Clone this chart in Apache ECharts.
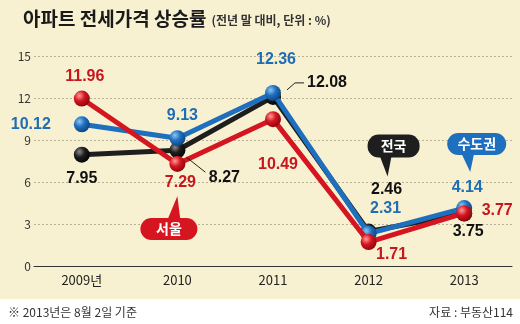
<!DOCTYPE html>
<html><head><meta charset="utf-8">
<script src="https://cdn.jsdelivr.net/npm/echarts@6/dist/echarts.min.js"></script>
<style>html,body{margin:0;padding:0;background:#f7f1d2;}#c{width:520px;height:324px;}</style>
</head><body><div id="c"></div>
<script>
const categories = ['2009년', '2010', '2011', '2012', '2013'];
const yTicks = [0, 3, 6, 9, 12, 15];
const seriesNames = ['전국', '수도권', '서울'];
const national = [7.95, 8.27, 12.08, 2.46, 3.75];
const capital = [10.12, 9.13, 12.36, 2.31, 4.14];
const seoul = [11.96, 7.29, 10.49, 1.71, 3.77];
const titleText = '아파트 전세가격 상승률';
const subText = '(전년 말 대비, 단위 : %)';
const noteText = '※ 2013년은 8월 2일 기준';
const sourceText = '자료 : 부동산114';

// label offsets (pixels from point centre)
const nationalOff = [[0, 24], [47, 27], [54, -14], [18, -42], [4, 18]];
const capitalOff = [[-51, 0], [5, -23], [3, -33], [17, -25], [3, -20]];
const seoulOff = [[3, -22], [3, 19], [5, 45], [23, 13], [33, -3]];

const colors = {
  black: {main: '#1e1e1e', light: '#8a8a8a', dark: '#000000', text: '#111111'},
  blue: {main: '#1f6fbf', light: '#8cc4f5', dark: '#0d3f78', text: '#1f6db5'},
  red: {main: '#d5151f', light: '#ff9a9a', dark: '#85050b', text: '#c8161e'}
};
const font = '"Noto Sans CJK KR", "Noto Sans", sans-serif';
const numFont = '"Liberation Sans", Arial, sans-serif';

function ball(c) {
  return {type: 'radial', x: 0.35, y: 0.32, r: 0.75, colorStops: [
    {offset: 0, color: c.light}, {offset: 0.45, color: c.main}, {offset: 1, color: c.dark}]};
}
function build(name, vals, offs, c, z) {
  return {
    name: name, type: 'line', z: z, data: vals.map((v, i) => ({
      value: v,
      label: {offset: offs[i]}
    })),
    symbol: 'circle', symbolSize: 16,
    lineStyle: {color: c.main, width: 5},
    itemStyle: {color: ball(c), borderWidth: 0},
    label: {show: true, position: 'inside', color: c.text, fontFamily: numFont,
      fontWeight: 'bold', fontSize: 16, formatter: p => p.value.toFixed(2)},
    emphasis: {disabled: true}, animation: false
  };
}

const chart = echarts.init(document.getElementById('c'));
chart.setOption({
  backgroundColor: '#f7f1d2',
  animation: false,
  title: {left: 18, top: 4, text: '{a|' + titleText + '} {b|' + subText + '}',
    textStyle: {rich: {
      a: {fontFamily: font, fontWeight: 'bold', fontSize: 19, color: '#1a1a1a'},
      b: {fontFamily: font, fontSize: 12, color: '#333', padding: [3, 0, 0, 0]}}}},
  grid: {left: 34, right: 8, top: 56, bottom: 58},
  xAxis: {type: 'category', data: categories, boundaryGap: true,
    axisLine: {lineStyle: {color: '#333', width: 1}},
    axisTick: {inside: true, alignWithLabel: true, length: 6, lineStyle: {color: '#333'}},
    axisLabel: {color: '#222', fontFamily: font, fontSize: 13, margin: 8}},
  yAxis: {type: 'value', min: yTicks[0], max: yTicks[yTicks.length - 1], interval: 3,
    axisLine: {show: false}, axisTick: {show: false},
    axisLabel: {color: '#333', fontFamily: font, fontSize: 12, margin: 3},
    splitLine: {lineStyle: {color: '#b8b194', type: [2, 2], width: 1}}},
  series: [
    build(seriesNames[0], national, nationalOff, colors.black, 2),
    build(seriesNames[1], capital, capitalOff, colors.blue, 3),
    build(seriesNames[2], seoul, seoulOff, colors.red, 4)
  ]
});

function pt(i, v) { return chart.convertToPixel({gridIndex: 0}, [i, v]); }
function callout(anchor, box, tail, text, color) {
  const [ax, ay] = anchor;
  const g = [];
  g.push({type: 'polygon', z: 50, shape: {points: tail.map(p => [ax + p[0], ay + p[1]])}, style: {fill: color}});
  g.push({type: 'rect', z: 51, shape: {x: ax + box[0], y: ay + box[1], width: box[2], height: box[3], r: 11}, style: {fill: color}});
  g.push({type: 'text', z: 52, x: ax + box[0] + box[2] / 2, y: ay + box[1] + box[3] / 2,
    style: {text: text, fill: '#fff', font: 'bold 14px ' + font, align: 'center', verticalAlign: 'middle'}});
  return g;
}
const pN2 = pt(3, national[3]);
const pC4 = pt(4, capital[4]);
const pS1 = pt(1, seoul[1]);
const pN1 = pt(1, national[1]);
const pN2011 = pt(2, national[2]);
let graphics = [];
graphics = graphics.concat(callout(pN2, [-1, -97, 52, 23], [[11, -76], [23, -76], [19, -55]], seriesNames[0], colors.black.main));
graphics = graphics.concat(callout(pC4, [-17, -75, 59, 22], [[-3, -55], [10, -55], [6, -36]], seriesNames[1], colors.blue.main));
graphics = graphics.concat(callout(pS1, [-37, 54, 57, 22], [[-10, 56], [3, 56], [0, 32]], seriesNames[2], colors.red.main));
graphics.push({type: 'polyline', z: 40, shape: {points: [[pN1[0] + 9, pN1[1] + 7], [pN1[0] + 28, pN1[1] + 22]]}, style: {stroke: '#222', lineWidth: 1}});
graphics.push({type: 'polyline', z: 40, shape: {points: [[pN2011[0] + 14, pN2011[1] - 7], [pN2011[0] + 22, pN2011[1] - 14], [pN2011[0] + 31, pN2011[1] - 14]]}, style: {stroke: '#222', lineWidth: 1}});
graphics.push({type: 'rect', z: 0, silent: true, shape: {x: 0, y: 299, width: 520, height: 25}, style: {fill: '#ffffff'}});
graphics.push({type: 'text', z: 60, x: 8, y: 312, style: {text: noteText, fill: '#333', font: '12px ' + font, verticalAlign: 'middle'}});
graphics.push({type: 'text', z: 60, x: 513, y: 312, style: {text: sourceText, fill: '#333', font: '12px ' + font, align: 'right', verticalAlign: 'middle'}});
chart.setOption({graphic: graphics});
</script></body></html>
